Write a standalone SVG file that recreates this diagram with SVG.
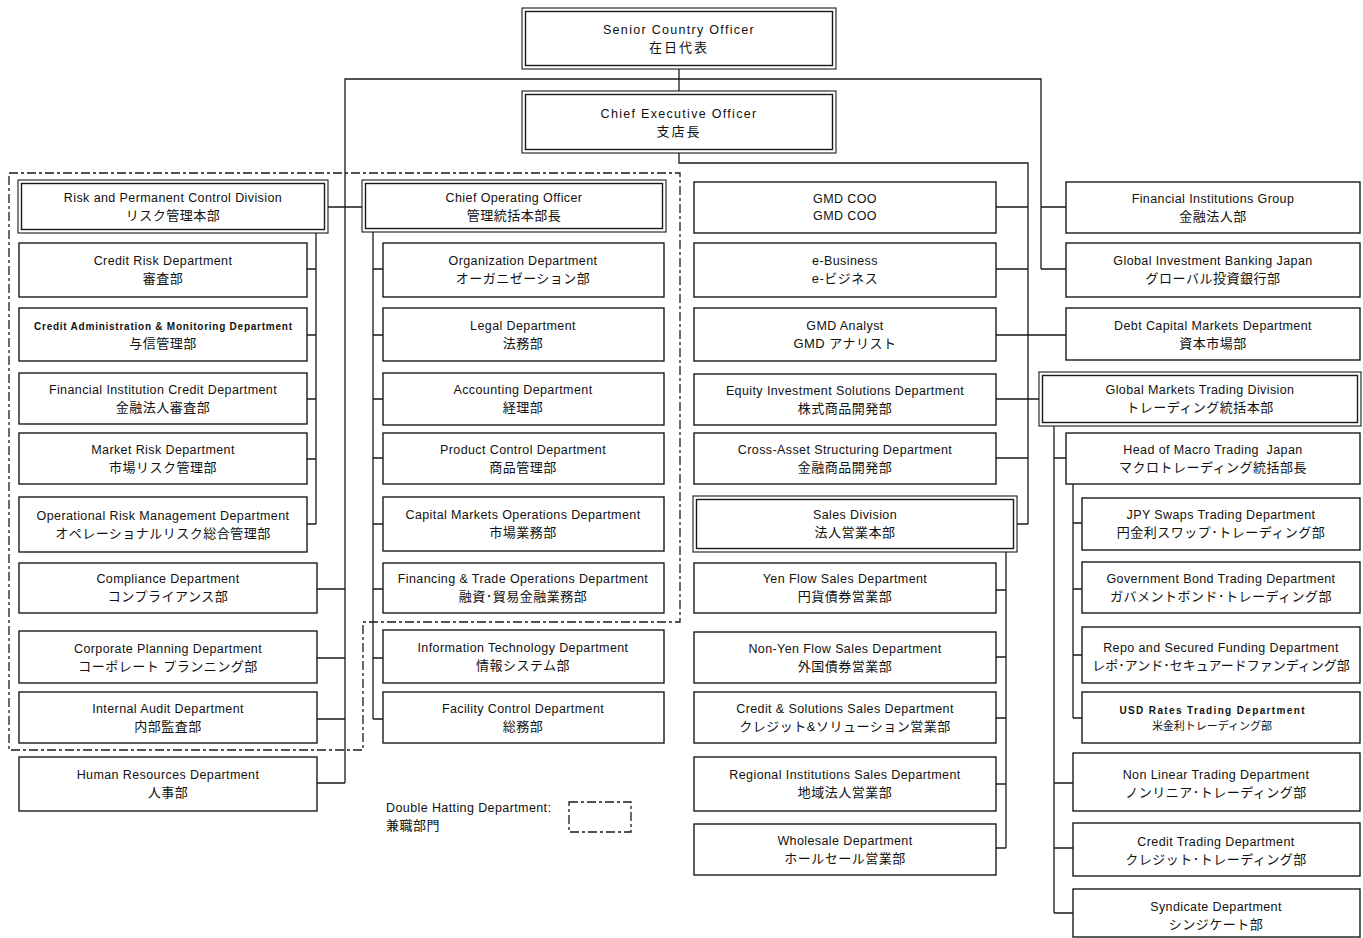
<svg xmlns="http://www.w3.org/2000/svg" width="1363" height="938" viewBox="0 0 1363 938">
<style>
.bx{fill:#fff;stroke:#1a1a1a;stroke-width:1.4}
.o{fill:#fff;stroke:#1a1a1a;stroke-width:1.1}
.i{fill:none;stroke:#1a1a1a;stroke-width:1.4}
.c{fill:none;stroke:#1a1a1a;stroke-width:1.3}
.d{fill:none;stroke:#1a1a1a;stroke-width:1.3;stroke-dasharray:9 3 3 3}
text{font-family:"Liberation Sans","Noto Sans CJK JP",sans-serif;fill:#111;text-anchor:middle;dominant-baseline:central}
.e{font-size:12.5px;letter-spacing:0.4px}
.j{font-size:13px;letter-spacing:0.5px}
.j0{letter-spacing:0}
.et{font-size:12.5px;letter-spacing:1.3px}
.jt{font-size:13px;letter-spacing:2px}
.s{font-size:10px;font-weight:bold}
.js{font-size:11px}
.l{text-anchor:start}
</style>
<rect width="1363" height="938" fill="#fff"/>
<g id="double-hatting">
<path class="d" d="M9,173 H680 V622 H363 V750 H9 Z"/>
</g>
<g id="connectors">
<path class="c" d="M679,69 V91"/>
<path class="c" d="M345,783 V79 H1041 V269"/>
<path class="c" d="M1041,207 H1066 M1041,269 H1066"/>
<path class="c" d="M679,153 V163 H1028 V524"/>
<path class="c" d="M996,207 H1028 M996,269 H1028 M996,335 H1066 M996,399 H1039 M996,458 H1028 M1017,524 H1028"/>
<path class="c" d="M328,207 H362"/>
<path class="c" d="M316,233 V524 M307,269 H316 M307,335 H316 M307,399 H316 M307,459 H316 M307,524 H316"/>
<path class="c" d="M317,589 H345 M317,658 H345 M317,719 H345 M317,783 H345"/>
<path class="c" d="M373,232 V719 M373,269 H383 M373,335 H383 M373,399 H383 M373,458 H383 M373,524 H383 M373,589 H383 M373,658 H383 M373,719 H383"/>
<path class="c" d="M1006,552 V848 M996,590 H1006 M996,657 H1006 M996,718 H1006 M996,784 H1006 M996,848 H1006"/>
<path class="c" d="M1054,426 V913 M1054,458 H1066 M1054,783 H1073 M1054,848 H1073 M1054,913 H1073"/>
<path class="c" d="M1073,484 V718 M1073,523 H1082 M1073,589 H1082 M1073,655 H1082 M1073,718 H1082"/>
</g>
<g id="sco"><rect class="o" x="522" y="8" width="314" height="61"/><rect class="i" x="525.5" y="11.5" width="307" height="54"/><text class="et" x="679" y="30">Senior Country Officer</text><text class="jt" x="679" y="47">在日代表</text></g>
<g id="ceo"><rect class="o" x="522" y="91" width="314" height="62"/><rect class="i" x="525.5" y="94.5" width="307" height="55"/><text class="et" x="679" y="114">Chief Executive Officer</text><text class="jt" x="679" y="131">支店長</text></g>

<g id="risk"><rect class="o" x="18" y="180" width="310" height="53"/><rect class="i" x="21.5" y="183.5" width="303" height="46"/><text class="e" x="173" y="198">Risk and Permanent Control Division</text><text class="j" x="173" y="215">リスク管理本部</text></g>
<g id="credit-risk"><rect class="bx" x="19" y="243" width="288" height="54"/><text class="e" x="163" y="261">Credit Risk Department</text><text class="j" x="163" y="278">審査部</text></g>
<g id="credit-admin"><rect class="bx" x="19" y="308" width="288" height="53"/><text class="s" x="163" y="326" textLength="258" lengthAdjust="spacing">Credit Administration &amp; Monitoring Department</text><text class="j" x="163" y="343">与信管理部</text></g>
<g id="fi-credit"><rect class="bx" x="19" y="373" width="288" height="51"/><text class="e" x="163" y="390">Financial Institution Credit Department</text><text class="j" x="163" y="407">金融法人審査部</text></g>
<g id="market-risk"><rect class="bx" x="19" y="433" width="288" height="51"/><text class="e" x="163" y="450">Market Risk Department</text><text class="j" x="163" y="467">市場リスク管理部</text></g>
<g id="op-risk"><rect class="bx" x="19" y="497" width="288" height="55"/><text class="e" x="163" y="516">Operational Risk Management Department</text><text class="j" x="163" y="533">オペレーショナルリスク総合管理部</text></g>
<g id="compliance"><rect class="bx" x="19" y="563" width="298" height="50"/><text class="e" x="168" y="579">Compliance Department</text><text class="j" x="168" y="596">コンプライアンス部</text></g>
<g id="corp-planning"><rect class="bx" x="19" y="631" width="298" height="52"/><text class="e" x="168" y="649">Corporate Planning Department</text><text class="j" x="168" y="666">コーポレート プランニング部</text></g>
<g id="internal-audit"><rect class="bx" x="19" y="692" width="298" height="51"/><text class="e" x="168" y="709">Internal Audit Department</text><text class="j" x="168" y="726">内部監査部</text></g>
<g id="hr"><rect class="bx" x="19" y="757" width="298" height="54"/><text class="e" x="168" y="775">Human Resources Department</text><text class="j" x="168" y="792">人事部</text></g>

<g id="coo"><rect class="o" x="362" y="180" width="304" height="52"/><rect class="i" x="365.5" y="183.5" width="297" height="45"/><text class="e" x="514" y="198">Chief Operating Officer</text><text class="j" x="514" y="215">管理統括本部長</text></g>
<g id="organization"><rect class="bx" x="383" y="243" width="281" height="54"/><text class="e" x="523" y="261">Organization Department</text><text class="j" x="523" y="278">オーガニゼーション部</text></g>
<g id="legal"><rect class="bx" x="383" y="308" width="281" height="53"/><text class="e" x="523" y="326">Legal Department</text><text class="j" x="523" y="343">法務部</text></g>
<g id="accounting"><rect class="bx" x="383" y="373" width="281" height="52"/><text class="e" x="523" y="390">Accounting Department</text><text class="j" x="523" y="407">経理部</text></g>
<g id="product-control"><rect class="bx" x="383" y="433" width="281" height="51"/><text class="e" x="523" y="450">Product Control Department</text><text class="j" x="523" y="467">商品管理部</text></g>
<g id="cmo"><rect class="bx" x="383" y="497" width="281" height="54"/><text class="e" x="523" y="515">Capital Markets Operations Department</text><text class="j" x="523" y="532">市場業務部</text></g>
<g id="fto"><rect class="bx" x="383" y="563" width="281" height="50"/><text class="e" x="523" y="579">Financing &amp; Trade Operations Department</text><text class="j" x="523" y="596">融資･貿易金融業務部</text></g>
<g id="it"><rect class="bx" x="383" y="630" width="281" height="53"/><text class="e" x="523" y="648">Information Technology Department</text><text class="j" x="523" y="665">情報システム部</text></g>
<g id="facility"><rect class="bx" x="383" y="692" width="281" height="51"/><text class="e" x="523" y="709">Facility Control Department</text><text class="j" x="523" y="726">総務部</text></g>

<g id="gmd-coo"><rect class="bx" x="694" y="182" width="302" height="51"/><text class="e" x="845" y="199">GMD COO</text><text class="e" x="845" y="216">GMD COO</text></g>
<g id="ebusiness"><rect class="bx" x="694" y="243" width="302" height="54"/><text class="e" x="845" y="261">e-Business</text><text class="j" x="845" y="278">e-ビジネス</text></g>
<g id="gmd-analyst"><rect class="bx" x="694" y="308" width="302" height="53"/><text class="e" x="845" y="326">GMD Analyst</text><text class="j" x="845" y="343">GMD アナリスト</text></g>
<g id="equity"><rect class="bx" x="694" y="374" width="302" height="51"/><text class="e" x="845" y="391">Equity Investment Solutions Department</text><text class="j" x="845" y="408">株式商品開発部</text></g>
<g id="cross-asset"><rect class="bx" x="694" y="433" width="302" height="51"/><text class="e" x="845" y="450">Cross-Asset Structuring Department</text><text class="j" x="845" y="467">金融商品開発部</text></g>
<g id="sales"><rect class="o" x="693" y="496" width="324" height="56"/><rect class="i" x="696.5" y="499.5" width="317" height="49"/><text class="e" x="855" y="515">Sales Division</text><text class="j" x="855" y="532">法人営業本部</text></g>
<g id="yen-flow"><rect class="bx" x="694" y="563" width="302" height="50"/><text class="e" x="845" y="579">Yen Flow Sales Department</text><text class="j" x="845" y="596">円貨債券営業部</text></g>
<g id="non-yen"><rect class="bx" x="694" y="632" width="302" height="51"/><text class="e" x="845" y="649">Non-Yen Flow Sales Department</text><text class="j" x="845" y="666">外国債券営業部</text></g>
<g id="credit-solutions"><rect class="bx" x="694" y="692" width="302" height="51"/><text class="e" x="845" y="709">Credit &amp; Solutions Sales Department</text><text class="j" x="845" y="726">クレジット&amp;ソリューション営業部</text></g>
<g id="regional"><rect class="bx" x="694" y="757" width="302" height="54"/><text class="e" x="845" y="775">Regional Institutions Sales Department</text><text class="j" x="845" y="792">地域法人営業部</text></g>
<g id="wholesale"><rect class="bx" x="694" y="824" width="302" height="51"/><text class="e" x="845" y="841">Wholesale Department</text><text class="j" x="845" y="858">ホールセール営業部</text></g>

<g id="fig"><rect class="bx" x="1066" y="182" width="294" height="51"/><text class="e" x="1213" y="199">Financial Institutions Group</text><text class="j" x="1213" y="216">金融法人部</text></g>
<g id="gibj"><rect class="bx" x="1066" y="243" width="294" height="54"/><text class="e" x="1213" y="261">Global Investment Banking Japan</text><text class="j" x="1213" y="278">グローバル投資銀行部</text></g>
<g id="dcm"><rect class="bx" x="1066" y="308" width="294" height="52"/><text class="e" x="1213" y="326">Debt Capital Markets Department</text><text class="j" x="1213" y="343">資本市場部</text></g>
<g id="gmtd"><rect class="o" x="1039" y="372" width="322" height="54"/><rect class="i" x="1042.5" y="375.5" width="315" height="47"/><text class="e" x="1200" y="390">Global Markets Trading Division</text><text class="j" x="1200" y="407">トレーディング統括本部</text></g>
<g id="head-macro"><rect class="bx" x="1066" y="433" width="294" height="51"/><text class="e" x="1213" y="450">Head of Macro Trading&#160; Japan</text><text class="j" x="1213" y="467">マクロトレーディング統括部長</text></g>
<g id="jpy"><rect class="bx" x="1082" y="498" width="278" height="52"/><text class="e" x="1221" y="515">JPY Swaps Trading Department</text><text class="j" x="1221" y="532">円金利スワップ･トレーディング部</text></g>
<g id="govt"><rect class="bx" x="1082" y="562" width="278" height="51"/><text class="e" x="1221" y="579">Government Bond Trading Department</text><text class="j" x="1221" y="596">ガバメントボンド･トレーディング部</text></g>
<g id="repo"><rect class="bx" x="1082" y="627" width="278" height="56"/><text class="e" x="1221" y="648">Repo and Secured Funding Department</text><text class="j j0" x="1221" y="665">レポ･アンド･セキュアードファンディング部</text></g>
<g id="usd"><rect class="bx" x="1082" y="692" width="278" height="51"/><text class="s" x="1212" y="710" textLength="185" lengthAdjust="spacing">USD Rates Trading Department</text><text class="js" x="1212" y="726">米金利トレーディング部</text></g>
<g id="nonlinear"><rect class="bx" x="1073" y="753" width="287" height="58"/><text class="e" x="1216" y="775">Non Linear Trading Department</text><text class="j" x="1216" y="792">ノンリニア･トレーディング部</text></g>
<g id="credit-trading"><rect class="bx" x="1073" y="823" width="287" height="53"/><text class="e" x="1216" y="842">Credit Trading Department</text><text class="j" x="1216" y="859">クレジット･トレーディング部</text></g>
<g id="syndicate"><rect class="bx" x="1073" y="889" width="287" height="48"/><text class="e" x="1216" y="907">Syndicate Department</text><text class="j" x="1216" y="924">シンジケート部</text></g>

<g id="legend"><text class="e l" x="386" y="808">Double Hatting Department:</text><text class="j l" x="386" y="825">兼職部門</text><rect class="d" x="569" y="802" width="62" height="30"/></g>
</svg>
